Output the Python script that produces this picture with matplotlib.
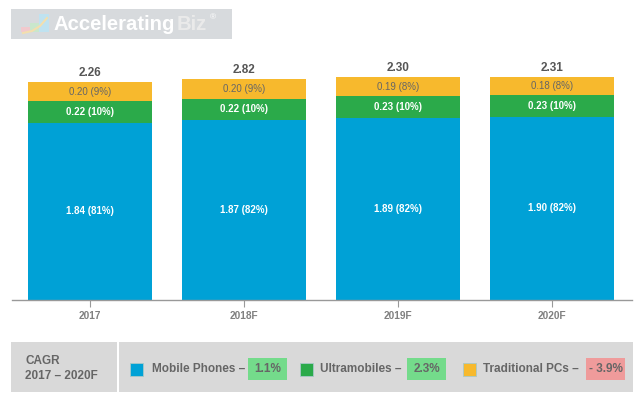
import matplotlib.pyplot as plt
from matplotlib.patches import Rectangle

plt.rcParams['font.family'] = ['Liberation Sans', 'DejaVu Sans']

years = ['2017', '2018F', '2019F', '2020F']
mobile = [1.84, 1.87, 1.89, 1.90]
ultra = [0.22, 0.22, 0.23, 0.23]
pcs = [0.20, 0.20, 0.19, 0.18]
mobile_pct = [81, 82, 82, 82]
ultra_pct = [10, 10, 10, 10]
pcs_pct = [9, 9, 8, 8]
totals = ['2.26', '2.82', '2.30', '2.31']
cagr_names = ['Mobile Phones', 'Ultramobiles', 'Traditional PCs']
cagr_values = ['1.1%', '2.3%', '- 3.9%']

BLUE = '#00a1d6'
GREEN = '#2baa4a'
YELLOW = '#f7b92d'
GRAY_TXT = '#666666'

fig = plt.figure(figsize=(6.4, 4), dpi=100)

# main chart
ax = fig.add_axes([12 / 640, 100 / 400, 620 / 640, 250.6 / 400])
x = range(len(years))
w = 0.805
ax.bar(x, mobile, w, color=BLUE)
ax.bar(x, ultra, w, bottom=mobile, color=GREEN)
bottom2 = [m + u for m, u in zip(mobile, ultra)]
ax.bar(x, pcs, w, bottom=bottom2, color=YELLOW)

for i in x:
    ax.text(i, mobile[i] / 2, f'{mobile[i]:.2f} ({mobile_pct[i]}%)', ha='center', va='center',
            color='white', fontsize=7, fontweight='bold')
    ax.text(i, mobile[i] + ultra[i] / 2, f'{ultra[i]:.2f} ({ultra_pct[i]}%)', ha='center', va='center',
            color='white', fontsize=7, fontweight='bold')
    ax.text(i, bottom2[i] + pcs[i] / 2, f'{pcs[i]:.2f} ({pcs_pct[i]}%)', ha='center', va='center',
            color=GRAY_TXT, fontsize=7)
    top = bottom2[i] + pcs[i]
    ax.text(i, top + 0.03, totals[i], ha='center', va='bottom',
            color='#555555', fontsize=8.5, fontweight='bold')

ax.set_xlim(-0.5065, 3.519)
ax.set_ylim(0, 2.6)
ax.set_xticks(list(x))
ax.set_xticklabels(years)
for lab in ax.get_xticklabels():
    lab.set_fontsize(7.3)
    lab.set_fontweight('bold')
    lab.set_color('#808080')
ax.set_yticks([])
ax.tick_params(axis='x', length=5, color='#999999', pad=3)
for s in ['top', 'right', 'left']:
    ax.spines[s].set_visible(False)
ax.spines['bottom'].set_color('#999999')
ax.spines['bottom'].set_linewidth(1)

# overlay in pixel coordinates
ov = fig.add_axes([0, 0, 1, 1])
ov.set_xlim(0, 640)
ov.set_ylim(400, 0)
ov.axis('off')
ov.patch.set_alpha(0)

# logo
ov.add_patch(Rectangle((11, 9), 221, 30, color='#d7dadd', lw=0))
ov.add_patch(Rectangle((21, 27), 9, 5, color='#f1c9cd', lw=0))
ov.add_patch(Rectangle((30, 23), 9, 9, color='#c9e7cc', lw=0))
ov.add_patch(Rectangle((39, 14), 10, 18, color='#bfe2f0', lw=0))
ov.plot([23, 32, 40, 47], [33, 31, 26, 18], color='#f3dfae', lw=1.5)
acc = ov.text(54, 24.5, 'Accelerating', ha='left', va='center', color='white',
              fontsize=14.6, fontweight='bold')
biz = ov.annotate('Biz', xy=(1, 0.5), xycoords=acc, xytext=(1, 0), textcoords='offset points',
                  ha='left', va='center', color='#eaeaea', fontsize=14.6, fontweight='bold')
ov.annotate('®', xy=(1, 0.85), xycoords=biz, xytext=(2, 0), textcoords='offset points',
            ha='left', va='center', color='white', fontsize=6)

# CAGR panel
ov.add_patch(Rectangle((11, 342), 106, 50, color='#d9d9d9', lw=0))
ov.add_patch(Rectangle((119, 342), 514, 50, color='#d9d9d9', lw=0))
ov.text(25, 361, 'CAGR', ha='left', va='center', color=GRAY_TXT, fontsize=8.5, fontweight='bold')
ov.text(25, 376, '2017 – 2020F', ha='left', va='center', color=GRAY_TXT, fontsize=8.5, fontweight='bold')

sq_x = [130, 300, 463]
txt_x = [152, 320, 483]
box_x = [(248, 287), (407, 446), (586, 625)]
sq_col = [BLUE, GREEN, YELLOW]
box_col = ['#74db8b', '#74db8b', '#ef9b9b']
for k in range(3):
    ov.add_patch(Rectangle((sq_x[k], 363), 13, 13, facecolor=sq_col[k], edgecolor='#a8c8c8', lw=0.6))
    ov.text(txt_x[k], 369.5, cagr_names[k] + ' –', ha='left', va='center', color=GRAY_TXT,
            fontsize=8.5, fontweight='bold')
    x0, x1 = box_x[k]
    ov.add_patch(Rectangle((x0, 358), x1 - x0, 22, color=box_col[k], lw=0))
    ov.text((x0 + x1) / 2, 369.5, cagr_values[k], ha='center', va='center', color=GRAY_TXT,
            fontsize=8.5, fontweight='bold')

fig.savefig('out.png', dpi=100)
